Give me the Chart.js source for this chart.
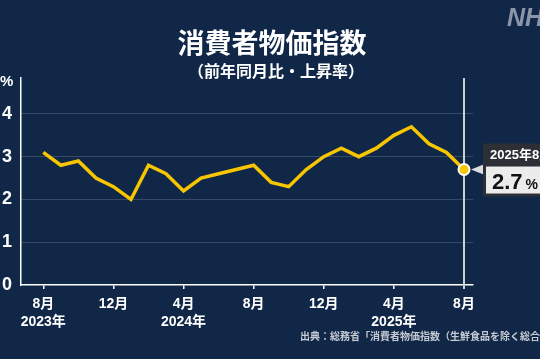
<!DOCTYPE html>
<html><head><meta charset="utf-8">
<script src="https://cdn.jsdelivr.net/npm/chart.js@4"></script>
<style>html,body{margin:0;padding:0;background:#112748;overflow:hidden}canvas{display:block}</style>
</head><body>
<canvas id="c" width="540" height="359"></canvas>
<script>
const months = ['2023-08','2023-09','2023-10','2023-11','2023-12','2024-01','2024-02','2024-03','2024-04','2024-05','2024-06','2024-07','2024-08','2024-09','2024-10','2024-11','2024-12','2025-01','2025-02','2025-03','2025-04','2025-05','2025-06','2025-07','2025-08'];
const values = [3.1,2.8,2.9,2.5,2.3,2.0,2.8,2.6,2.2,2.5,2.6,2.7,2.8,2.4,2.3,2.7,3.0,3.2,3.0,3.2,3.5,3.7,3.3,3.1,2.7];
const tickIndex = [0,4,8,12,16,20,24];
const tickMonthLabels = ['8月','12月','4月','8月','12月','4月','8月'];
const tickYearLabels = ['2023年','','2024年','','','2025年',''];
const yTicks = [0,1,2,3,4];
const titleText = '消費者物価指数';
const subtitleText = '（前年同月比・上昇率）';
const sourceText = '出典：総務省「消費者物価指数（生鮮食品を除く総合）」';
const calloutDate = '2025年8月';
const unitText = '%';

const FONT = '"Liberation Sans","Noto Sans CJK JP",sans-serif';
const BG = '#112748';
const YELLOW = '#f7c600';
const last = values.length - 1;

const decor = {
  id: 'decor',
  beforeDraw(chart) {
    const c = chart.ctx;
    c.save(); c.fillStyle = BG; c.fillRect(0, 0, chart.width, chart.height); c.restore();
  },
  beforeDatasetsDraw(chart) {
    const c = chart.ctx, xs = chart.scales.x, a = chart.chartArea;
    const px = xs.getPixelForValue(last);
    c.save();
    c.strokeStyle = '#c9ced6'; c.lineWidth = 2;
    c.beginPath(); c.moveTo(px, a.top); c.lineTo(px, a.bottom + 4); c.stroke();
    c.restore();
  },
  afterDraw(chart) {
    const c = chart.ctx, xs = chart.scales.x, ys = chart.scales.y;
    c.save();
    // title
    c.fillStyle = '#ffffff'; c.textAlign = 'center'; c.textBaseline = 'middle';
    c.font = 'bold 27px "Noto Sans CJK JP",sans-serif';
    c.fillText(titleText, 272, 43);
    c.font = 'bold 16px "Noto Sans CJK JP",sans-serif';
    c.fillText(subtitleText, 276, 71);
    // unit
    c.textAlign = 'left';
    c.font = 'bold 15px ' + FONT;
    c.fillText(unitText, 0, 82);
    // logo
    c.fillStyle = '#8b96a8';
    c.font = 'italic bold 25px "Liberation Sans",sans-serif';
    c.textBaseline = 'alphabetic';
    c.fillText('NHK', 507, 26);
    // source
    c.fillStyle = '#c6cad2';
    c.font = 'bold 10px "Noto Sans CJK JP",sans-serif';
    c.textBaseline = 'middle';
    c.fillText(sourceText, 300, 336);
    // callout
    const px = xs.getPixelForValue(last), py = ys.getPixelForValue(values[last]);
    c.fillStyle = '#dcdde0';
    c.beginPath(); c.moveTo(px + 7, py); c.lineTo(px + 22, py - 6); c.lineTo(px + 22, py + 6); c.closePath(); c.fill();
    c.fillStyle = '#2c3036';
    c.fillRect(px + 19, py - 26, 80, 53);
    c.fillStyle = '#ececec';
    c.fillRect(px + 22, py - 3, 80, 27);
    c.fillStyle = '#ffffff';
    c.font = 'bold 13px ' + FONT;
    c.textBaseline = 'middle';
    c.fillText(calloutDate, px + 26, py - 14);
    c.fillStyle = '#111111';
    c.textBaseline = 'alphabetic';
    c.font = 'bold 22px ' + FONT;
    const vt = values[last].toFixed(1);
    c.fillText(vt, px + 28, py + 19);
    const w = c.measureText(vt).width;
    c.font = 'bold 14px ' + FONT;
    c.fillText('%', px + 28 + w + 3, py + 19);
    c.restore();
  }
};

new Chart(document.getElementById('c'), {
  type: 'line',
  data: {
    labels: months,
    datasets: [{
      data: values.map((v, i) => ({ x: i, y: v })),
      borderColor: YELLOW,
      borderWidth: 3.5,
      tension: 0,
      fill: false,
      pointRadius: ctx => ctx.dataIndex === last ? 5.5 : 0,
      pointBackgroundColor: YELLOW,
      pointBorderColor: '#ffffff',
      pointBorderWidth: 2,
      clip: false
    }]
  },
  options: {
    responsive: false,
    devicePixelRatio: 1,
    animation: false,
    layout: { padding: { left: 0, right: 67, top: 78, bottom: 0 } },
    plugins: { legend: { display: false }, tooltip: { enabled: false }, title: { display: false } },
    scales: {
      x: {
        type: 'linear',
        min: -1.272, max: 24.513,
        afterBuildTicks: s => { s.ticks = tickIndex.map(v => ({ value: v })); },
        afterFit: s => { s.height = 74; },
        grid: { display: true, drawOnChartArea: false, drawTicks: true, tickLength: 4, color: '#ffffff', lineWidth: 1.5 },
        border: { display: true, color: '#ffffff', width: 1.5 },
        ticks: {
          autoSkip: false, maxRotation: 0, padding: 6,
          color: '#ffffff',
          font: { family: FONT, size: 14, weight: 'bold', lineHeight: 1.3 },
          callback: v => {
            const k = tickIndex.indexOf(v);
            if (k < 0) return '';
            return tickYearLabels[k] ? [tickMonthLabels[k], tickYearLabels[k]] : tickMonthLabels[k];
          }
        }
      },
      y: {
        min: 0, max: 4.84,
        afterBuildTicks: s => { s.ticks = yTicks.map(v => ({ value: v })); },
        afterFit: s => { s.width = 21; },
        grid: { drawTicks: false, color: ctx => ctx.tick && ctx.tick.value === 0 ? 'rgba(0,0,0,0)' : 'rgba(255,255,255,0.16)', lineWidth: 1 },
        border: { display: true, color: '#ffffff', width: 1.5 },
        ticks: { padding: 9, color: '#ffffff', font: { family: FONT, size: 18, weight: 'bold' } }
      }
    }
  },
  plugins: [decor]
});
</script>
</body></html>
